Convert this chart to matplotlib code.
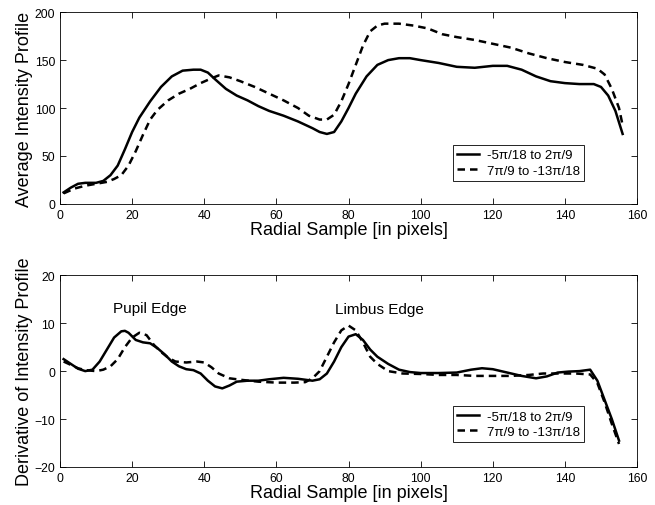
import matplotlib
matplotlib.use("Agg")
import matplotlib.pyplot as plt

plt.rcParams['font.family'] = ['Liberation Sans', 'DejaVu Sans']

# top panel: average intensity profile
x_avg_a = [1, 3, 5, 7, 10, 12, 14, 16, 18, 20, 22, 25, 28, 31, 34, 37, 39, 41, 43, 46, 49, 52, 55, 58, 62, 66,
           70, 72, 74, 76, 78, 80, 82, 85, 88, 91, 94, 97, 100, 105, 110, 115, 120, 124, 128, 132, 136, 140,
           144, 148, 150, 152, 154, 156]
y_avg_a = [12, 17, 21, 22, 22, 24, 30, 40, 57, 75, 90, 107, 122, 133, 139, 140, 140, 137, 130, 120, 113, 108,
           102, 97, 92, 86, 79, 75, 73, 75, 86, 100, 115, 133, 145, 150, 152, 152, 150, 147, 143, 142, 144, 144,
           140, 133, 128, 126, 125, 125, 122, 113, 97, 73]
x_avg_b = [1, 4, 7, 10, 13, 15, 17, 19, 21, 23, 25, 27, 30, 33, 36, 39, 42, 44, 47, 50, 54, 58, 62, 66, 69, 72,
           74, 76, 78, 80, 82, 84, 86, 88, 90, 94, 98, 102, 106, 110, 115, 120, 125, 130, 135, 140, 145, 149,
           151, 153, 155, 156]
y_avg_b = [11, 16, 19, 21, 23, 26, 30, 40, 55, 72, 88, 98, 108, 115, 120, 126, 131, 134, 132, 128, 122, 115,
           108, 100, 92, 88, 88, 93, 107, 125, 145, 165, 180, 186, 188, 188, 186, 183, 177, 174, 171, 167, 163,
           157, 152, 148, 145, 141, 135, 120, 100, 82]

# bottom panel: derivative of the profile
x_der_a = [1, 3, 5, 7, 9, 11, 13, 15, 17, 18, 19, 21, 23, 25, 27, 29, 31, 33, 35, 37, 39, 41, 43, 45, 47, 49,
           52, 55, 58, 62, 66, 70, 72, 74, 76, 78, 80, 82, 84, 86, 88, 91, 94, 97, 100, 105, 110, 114, 117, 120,
           124, 128, 132, 135, 138, 141, 144, 147, 149, 151, 153, 155]
y_der_a = [2.5, 1.5, 0.5, 0, 0.3, 2, 4.5, 7, 8.3, 8.4, 8, 6.5, 6, 5.8, 4.8, 3.5, 2, 1, 0.4, 0.2, -0.5, -2, -3.2,
           -3.6, -3, -2.2, -2, -2, -1.7, -1.4, -1.6, -2, -1.7, -0.5, 2, 5, 7.2, 7.7, 6.5, 4.5, 3, 1.5, 0.3, -0.2,
           -0.4, -0.4, -0.3, 0.3, 0.6, 0.4, -0.3, -1, -1.5, -1.1, -0.3, -0.1, 0, 0.3, -2, -6, -10, -14.5]
x_der_b = [1, 3, 5, 7, 10, 12, 14, 16, 18, 20, 22, 24, 26, 28, 30, 32, 35, 38, 40, 42, 44, 47, 50, 55, 60, 65,
           68, 70, 72, 74, 76, 78, 80, 82, 84, 86, 88, 91, 95, 100, 105, 110, 115, 120, 125, 130, 134, 138, 143,
           147, 149, 151, 153, 155]
y_der_b = [2, 1.3, 0.6, 0.2, 0, 0.3, 1, 2.5, 5, 7, 8, 7.5, 5.5, 4, 2.8, 2, 1.8, 2, 1.8, 0.8, -0.5, -1.5, -1.8,
           -2.2, -2.4, -2.4, -2.3, -1.5, 0, 3, 6, 8.5, 9.5, 8.5, 6, 3, 1.5, 0, -0.5, -0.6, -0.8, -0.8, -1, -1,
           -1, -0.8, -0.5, -0.5, -0.5, -0.7, -2.5, -6.5, -11, -15.2]

labels = ['-5\u03c0/18 to 2\u03c0/9', '7\u03c0/9 to -13\u03c0/18']

fig = plt.figure(figsize=(6.55, 5.06), dpi=100)
ax1 = fig.add_axes([0.0916, 0.595, 0.881, 0.379])
ax2 = fig.add_axes([0.0916, 0.0751, 0.881, 0.379])

dash = (0, (3, 2))
for ax, xa, ya, xb, yb in [(ax1, x_avg_a, y_avg_a, x_avg_b, y_avg_b),
                           (ax2, x_der_a, y_der_a, x_der_b, y_der_b)]:
    ax.plot(xa, ya, color='black', lw=1.8, label=labels[0])
    ax.plot(xb, yb, color='black', lw=1.8, linestyle=dash, label=labels[1])
    ax.set_xlim(0, 160)
    ax.set_xticks(range(0, 161, 20))
    ax.tick_params(direction='in', top=True, right=True, length=4, labelsize=8.8, width=0.6)
    for s in ax.spines.values():
        s.set_linewidth(0.6)
    ax.set_xlabel('Radial Sample [in pixels]', fontsize=13, labelpad=0)
    ax.legend(loc='lower left', fontsize=9.5, fancybox=False, edgecolor='black', framealpha=1,
              handlelength=1.7, handletextpad=0.6, borderpad=0.3, labelspacing=0.25, borderaxespad=0)
    ax.get_legend().get_frame().set_linewidth(0.6)

ax1.get_legend().set_bbox_to_anchor((0.681, 0.12))
ax2.get_legend().set_bbox_to_anchor((0.681, 0.13))

ax1.set_ylim(0, 200)
ax1.set_yticks(range(0, 201, 50))
ax1.set_ylabel('Average Intensity Profile', fontsize=13, labelpad=1)

ax2.set_ylim(-20, 20)
ax2.set_yticks(range(-20, 21, 10))
ax2.set_ylabel('Derivative of Intensity Profile', fontsize=13, labelpad=1)
ax2.text(25, 13.1, 'Pupil Edge', ha='center', va='center', fontsize=11)
ax2.text(88.6, 12.9, 'Limbus Edge', ha='center', va='center', fontsize=11)

fig.savefig('out.png', dpi=100)
